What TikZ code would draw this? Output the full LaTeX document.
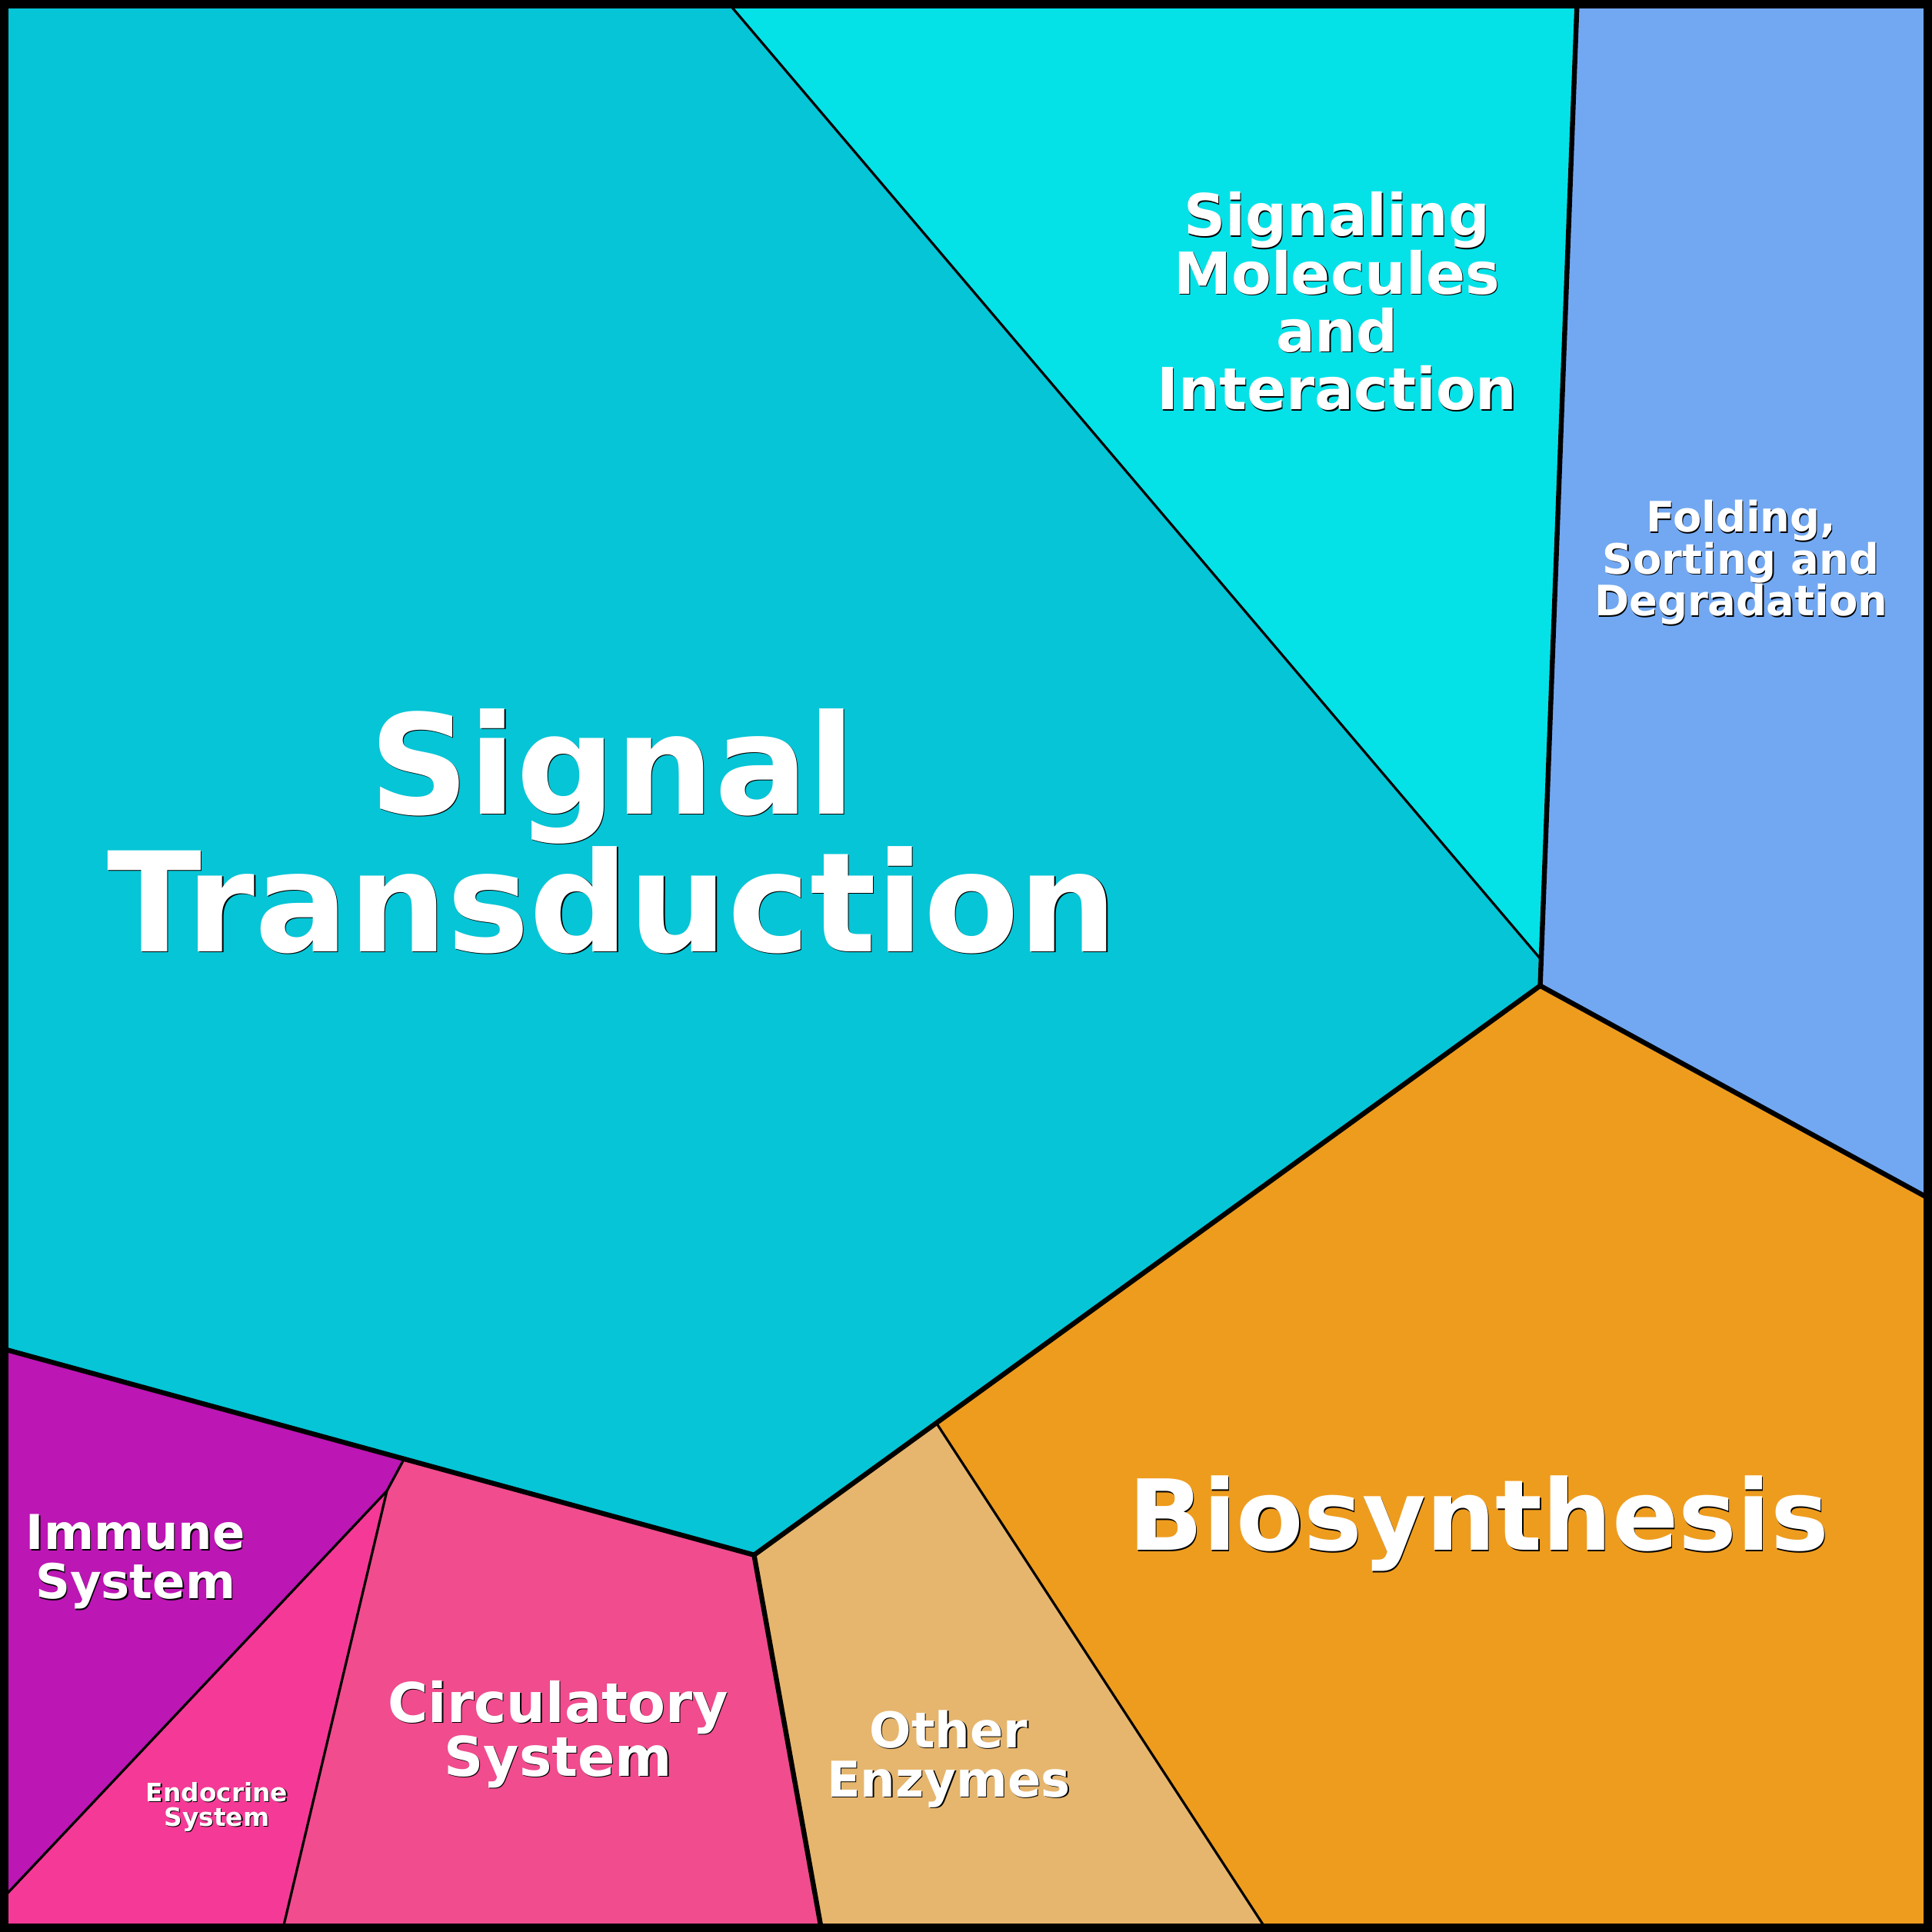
\documentclass[tikz,border=0pt]{standalone}
\usepackage{fontspec}
\setmainfont{DejaVu Sans}
\definecolor{sigtcol}{RGB}{6,197,214}
\definecolor{sigmcol}{RGB}{4,226,232}
\definecolor{foldcol}{RGB}{114,168,242}
\definecolor{bioscol}{RGB}{238,156,30}
\definecolor{othrcol}{RGB}{230,182,110}
\definecolor{immucol}{RGB}{188,22,180}
\definecolor{endocol}{RGB}{244,58,150}
\definecolor{circcol}{RGB}{240,76,142}
\newcommand{\shtxt}[1]{\rlap{\kern0.8pt\raisebox{-0.8pt}{\color{black}#1}}#1}
\newcommand{\fsz}[2]{\fontsize{#1}{#2}\selectfont\bfseries}
\begin{document}
\begin{tikzpicture}[x=1pt,y=-1pt,
		major/.style={line width=4pt},
		minor/.style={line width=2pt},
		lbl/.style={text=white, align=center, inner sep=0pt}]
		\useasboundingbox (0,0) rectangle (1568,1568);

		\coordinate (tA) at (589,0);
		\coordinate (tB) at (1280,0);
		\coordinate (pS) at (1250,778);
		\coordinate (pC) at (1250,800);
		\coordinate (rR) at (1568,974);
		\coordinate (pE) at (760,1155);
		\coordinate (pD) at (612,1262);
		\coordinate (lL) at (0,1094);
		\coordinate (pF) at (328,1184);
		\coordinate (pG) at (314,1210);
		\coordinate (lM) at (0,1543);
		\coordinate (bH) at (229,1568);
		\coordinate (bD) at (667,1568);
		\coordinate (bE) at (1029,1568);

		\fill[sigtcol] (0,0) -- (tA) -- (pS) -- (pC) -- (pE) -- (pD) -- (pF) -- (lL) -- cycle;
		\fill[sigmcol] (tA) -- (tB) -- (pS) -- cycle;
		\fill[foldcol] (tB) -- (1568,0) -- (rR) -- (pC) -- (pS) -- cycle;
		\fill[bioscol] (pC) -- (rR) -- (1568,1568) -- (bE) -- (pE) -- cycle;
		\fill[othrcol] (pE) -- (bE) -- (bD) -- (pD) -- cycle;
		\fill[circcol] (pD) -- (bD) -- (bH) -- (pG) -- (pF) -- cycle;
		\fill[endocol] (pG) -- (bH) -- (0,1568) -- (lM) -- cycle;
		\fill[immucol] (lL) -- (pF) -- (pG) -- (lM) -- cycle;

		\draw[minor] (tA) -- (pS);
		\draw[minor] (pE) -- (bE);
		\draw[minor] (pF) -- (pG);
		\draw[minor] (pG) -- (lM);
		\draw[minor] (pG) -- (bH);

		\draw[major] (tB) -- (pC);
		\draw[major] (pC) -- (rR);
		\draw[major] (pC) -- (pD);
		\draw[major] (pD) -- (lL);
		\draw[major] (pD) -- (bD);

		\draw[line width=7pt] (3.5,3.5) rectangle (1564.5,1564.5);

		\node[lbl, font=\fsz{112.5}{110}] (sigt) at (497,675) {\shtxt{Signal}\\\shtxt{Transduction}};
		\node[lbl, font=\fsz{47}{47}] (sigm) at (1085,245) {\shtxt{Signaling}\\\shtxt{Molecules}\\\shtxt{and}\\\shtxt{Interaction}};
		\node[lbl, font=\fsz{34}{34}] (fold) at (1413,457) {\shtxt{Folding,}\\\shtxt{Sorting and}\\\shtxt{Degradation}};
		\node[lbl, font=\fsz{79.5}{80}] (bios) at (1200,1237) {\shtxt{Biosynthesis}};
		\node[lbl, font=\fsz{40}{40}] (othr) at (770,1428) {\shtxt{Other}\\\shtxt{Enzymes}};
		\node[lbl, font=\fsz{44.5}{44}] (circ) at (453,1408) {\shtxt{Circulatory}\\\shtxt{System}};
		\node[lbl, font=\fsz{39}{40}] (immu) at (110,1268) {\shtxt{Immune}\\\shtxt{System}};
		\node[lbl, font=\fsz{20.5}{20}] (endo) at (176,1467) {\shtxt{Endocrine}\\\shtxt{System}};
	\end{tikzpicture}
\end{document}
